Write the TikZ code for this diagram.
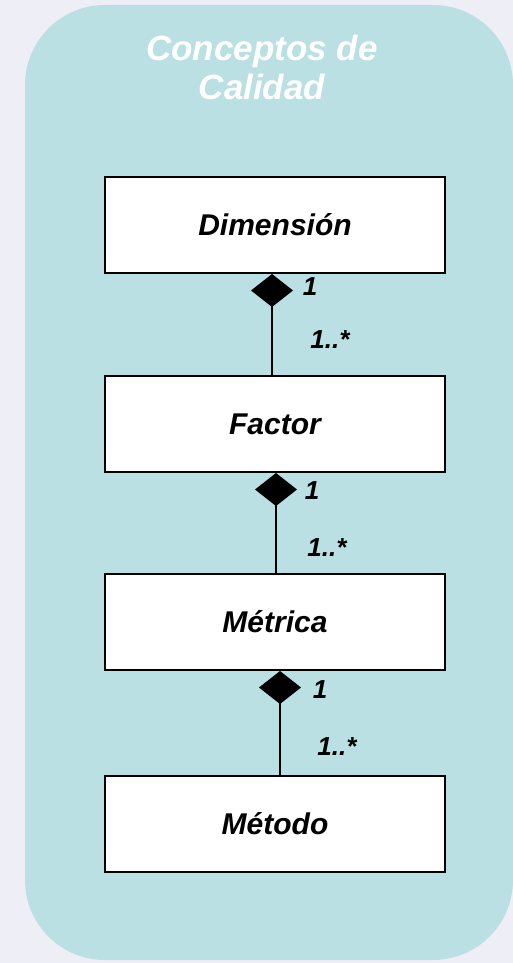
\documentclass[tikz,border=0pt]{standalone}
\usepackage{fontspec}
\setmainfont{Liberation Sans}
\usetikzlibrary{arrows.meta}
\definecolor{fondo}{RGB}{238,238,247}
\definecolor{turquesa}{RGB}{186,224,227}
\tikzset{
	clase/.style={draw=black,line width=2pt,fill=white,minimum width=340pt,minimum height=96pt,font=\fontsize{30}{34}\selectfont\bfseries\itshape},
	mult/.style={font=\fontsize{26}{30}\selectfont\bfseries\itshape},
	compos/.style={line width=1.8pt,{Diamond[length=33pt,width=42pt]}-}
}
\begin{document}
\begin{tikzpicture}[x=1pt,y=-1pt]
		\fill[fondo] (0,0) rectangle (513,963);
		\useasboundingbox (0,0) rectangle (513,963);
		\fill[turquesa,rounded corners=80pt] (25,5) rectangle (513,960);
		\node[align=center,text=white,font=\fontsize{35}{39}\selectfont\bfseries\itshape] (titulo) at (262,67){Conceptos de\\Calidad};
		\node[clase] (dim) at (275,225){Dimensión};
		\node[clase] (fac) at (275,424){Factor};
		\node[clase] (met) at (275,622){Métrica};
		\node[clase] (mto) at (275,824){Método};
		\draw[compos] ([xshift=-3pt]dim.south) -- ([xshift=-3pt]fac.north);
		\draw[compos] ([xshift=1pt]fac.south) -- ([xshift=1pt]met.north);
		\draw[compos] ([xshift=5pt]met.south) -- ([xshift=5pt]mto.north);
		\node[mult] (d1) at (310,287){1};
		\node[mult] (dn) at (330,340){1..*};
		\node[mult] (f1) at (312,491){1};
		\node[mult] (fn) at (327,548){1..*};
		\node[mult] (m1) at (320,690){1};
		\node[mult] (mn) at (337,747){1..*};
	\end{tikzpicture}
\end{document}
